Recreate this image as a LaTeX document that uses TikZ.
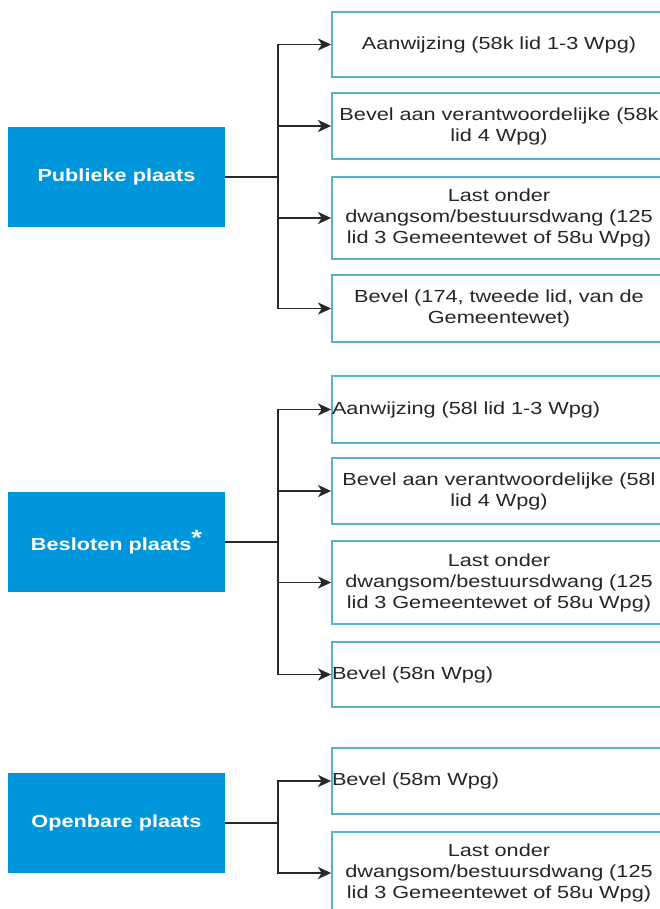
\documentclass[tikz,border=0pt]{standalone}
\usepackage{fontspec}
\setmainfont[FakeStretch=1.24]{Liberation Sans}
\usetikzlibrary{arrows.meta}
\definecolor{srcblue}{RGB}{0,150,219}
\definecolor{tgtborder}{RGB}{90,175,212}
\definecolor{connc}{RGB}{40,40,40}
\tikzset{
  srcbox/.style={fill=srcblue, draw=none, minimum width=217, minimum height=100,
    text=white, inner sep=0, font=\bfseries\fontsize{17.5}{21}\selectfont},
  tgtbox/.style={draw=tgtborder, line width=1.8, fill=white, inner xsep=0, inner ysep=0,
    text width=334, align=center, text=black!85, font=\fontsize{17.5}{21}\selectfont},
  tgtleft/.style={tgtbox, align=left},
  conn/.style={draw=connc, line width=1.8, -{Stealth[length=13,width=12,inset=3.5]}},
}
\begin{document}
\begin{tikzpicture}[x=1pt,y=-1pt]
\useasboundingbox (0,0) rectangle (660,909);
\clip (0,0) rectangle (660,909);
% sources
\node[srcbox] (P) at (116.5,177) {Publieke plaats};
\node[srcbox] (B) at (116.5,542) {Besloten plaats\raisebox{5pt}{\fontsize{22}{22}\selectfont*}};
\node[srcbox] (O) at (116.5,823) {Openbare plaats};
% targets publiek
\node[tgtbox, minimum height=65] (P1) at (499,44.5) {Aanwijzing (58k lid 1-3 Wpg)};
\node[tgtbox, minimum height=66] (P2) at (499,126) {Bevel aan verantwoordelijke (58k\\lid 4 Wpg)};
\node[tgtbox, minimum height=82] (P3) at (499,218) {Last onder\\dwangsom/bestuursdwang (125\\lid 3 Gemeentewet of 58u Wpg)};
\node[tgtbox, minimum height=67] (P4) at (499,308.5) {Bevel (174, tweede lid, van de\\Gemeentewet)};
% targets besloten
\node[tgtleft, minimum height=67] (B1) at (499,409.5) {Aanwijzing (58l lid 1-3 Wpg)};
\node[tgtbox, minimum height=66] (B2) at (499,491) {Bevel aan verantwoordelijke (58l\\lid 4 Wpg)};
\node[tgtbox, minimum height=83] (B3) at (499,582.5) {Last onder\\dwangsom/bestuursdwang (125\\lid 3 Gemeentewet of 58u Wpg)};
\node[tgtleft, minimum height=65] (B4) at (499,674.5) {Bevel (58n Wpg)};
% targets openbaar
\node[tgtleft, minimum height=66] (O1) at (499,781) {Bevel (58m Wpg)};
\node[tgtbox, minimum height=82] (O2) at (499,873) {Last onder\\dwangsom/bestuursdwang (125\\lid 3 Gemeentewet of 58u Wpg)};
% connectors
\foreach \t in {P1,P2,P3,P4} \draw[conn] (P.east) -- ++(53,0) |- (\t.west);
\foreach \t in {B1,B2,B3,B4} \draw[conn] (B.east) -- ++(53,0) |- (\t.west);
\foreach \t in {O1,O2} \draw[conn] (O.east) -- ++(53,0) |- (\t.west);
\end{tikzpicture}
\end{document}
